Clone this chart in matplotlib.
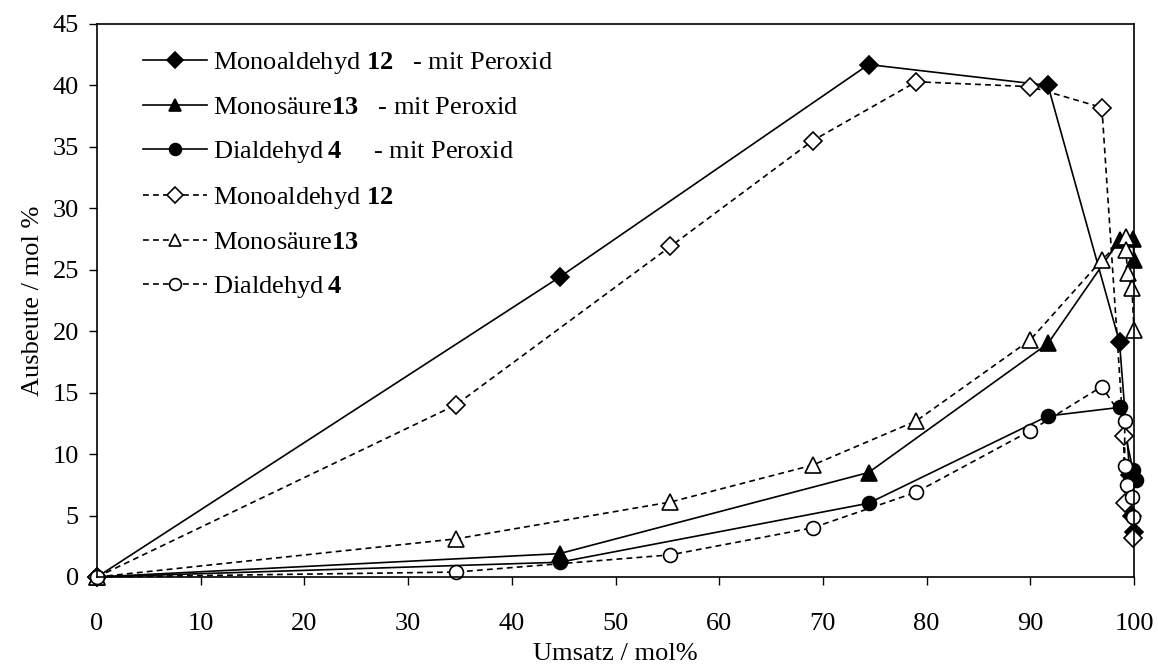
import matplotlib
matplotlib.use("Agg")
import matplotlib.pyplot as plt

plt.rcParams['font.family'] = ['Liberation Serif', 'DejaVu Serif']
plt.rcParams['mathtext.fontset'] = 'custom'
plt.rcParams['mathtext.rm'] = 'Liberation Serif'
plt.rcParams['mathtext.bf'] = 'Liberation Serif:bold'

# With peroxide (solid lines, filled markers)
x_mald_p = [0, 44.6, 74.4, 91.7, 98.6, 99.6, 99.8, 100.0]
y_mald_p = [0, 24.4, 41.7, 40.0, 19.1, 8.3, 5.0, 3.7]

x_msre_p = [0, 44.6, 74.4, 91.7, 98.6, 99.9, 100.0]
y_msre_p = [0, 1.9, 8.5, 19.0, 27.4, 27.5, 25.8]

x_dald_p = [0, 44.6, 74.4, 91.7, 98.6, 99.9, 100.2]
y_dald_p = [0, 1.2, 6.0, 13.1, 13.8, 8.7, 7.9]

# Without peroxide (dashed lines, open markers)
x_mald = [0, 34.6, 55.3, 69.0, 79.0, 90.0, 96.9, 99.0, 99.1, 99.9]
y_mald = [0, 14.0, 26.9, 35.5, 40.3, 39.9, 38.2, 11.5, 6.0, 3.2]

x_msre = [0, 34.6, 55.3, 69.0, 79.0, 90.0, 96.9, 99.2, 99.2, 99.4, 99.8, 100.0]
y_msre = [0, 3.1, 6.1, 9.1, 12.7, 19.3, 25.8, 27.7, 26.6, 24.7, 23.5, 20.1]

x_dald = [0, 34.6, 55.3, 69.0, 79.0, 90.0, 96.9, 99.1, 99.1, 99.3, 99.8, 99.9]
y_dald = [0, 0.4, 1.8, 4.0, 6.9, 11.9, 15.5, 12.7, 9.0, 7.5, 6.5, 4.9]

labels = [
    r"Monoaldehyd $\mathbf{12}$   - mit Peroxid",
    r"Monosäure$\mathbf{13}$   - mit Peroxid",
    r"Dialdehyd$\,\mathbf{4}$     - mit Peroxid",
    r"Monoaldehyd $\mathbf{12}$",
    r"Monosäure$\mathbf{13}$",
    r"Dialdehyd$\,\mathbf{4}$",
]

fig = plt.figure(figsize=(11.58, 6.72), dpi=100)
ax = fig.add_axes([0.0838, 0.1414, 0.8955, 0.8229])

dash = (0, (3.5, 2.5))
ms = 10
common = dict(color='black', markeredgecolor='black', markeredgewidth=1.2)

ax.plot(x_mald_p, y_mald_p, '-', marker='D', markersize=9, markerfacecolor='black', lw=1.2, label=labels[0], **common)
ax.plot(x_msre_p, y_msre_p, '-', marker='^', markersize=ms + 1, markerfacecolor='black', lw=1.2, label=labels[1], **common)
ax.plot(x_dald_p, y_dald_p, '-', marker='o', markersize=ms, markerfacecolor='black', lw=1.2, label=labels[2], **common)
ax.plot(x_mald, y_mald, linestyle=dash, marker='D', markersize=9, markerfacecolor='white', lw=1.2, label=labels[3], **common)
ax.plot(x_msre, y_msre, linestyle=dash, marker='^', markersize=ms + 1, markerfacecolor='white', lw=1.2, label=labels[4], **common)
ax.plot(x_dald, y_dald, linestyle=dash, marker='o', markersize=ms, markerfacecolor='white', lw=1.2, label=labels[5], **common)

ax.set_xlim(0, 100)
ax.set_ylim(0, 45)
ax.set_xticks(range(0, 101, 10))
ax.set_yticks(range(0, 46, 5))
ax.tick_params(direction='out', length=6, width=1, labelsize=19)
ax.tick_params(axis='x', pad=20)
ax.tick_params(axis='y', pad=7)
for s in ax.spines.values():
    s.set_linewidth(1.2)
for m in ax.get_lines():
    m.set_clip_on(False)

ax.set_xlabel("Umsatz / mol%", fontsize=19, labelpad=6)
ax.set_ylabel("Ausbeute / mol %", fontsize=19, labelpad=6)

leg = ax.legend(loc='upper left', bbox_to_anchor=(0.021, 0.996), frameon=False,
                fontsize=19, handlelength=2.46, handletextpad=0.2, labelspacing=0.75,
                markerscale=0.85)

fig.savefig("out.png", dpi=100)
